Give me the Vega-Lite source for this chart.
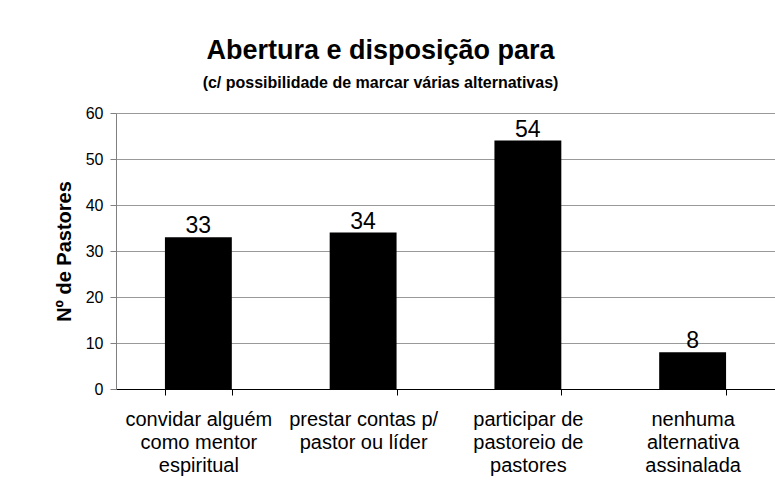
{
  "$schema": "https://vega.github.io/schema/vega-lite/v6.json",
  "width": 659,
  "height": 276,
  "autosize": {"type": "none"},
  "padding": {"left": 116, "top": 113, "right": 0, "bottom": 103},
  "background": "white",
  "title": {
    "text": "Abertura e disposição para",
    "subtitle": "(c/ possibilidade de marcar várias alternativas)",
    "anchor": "middle",
    "frame": "group",
    "dx": -65,
    "offset": 13,
    "font": "Liberation Sans",
    "fontSize": 27,
    "fontWeight": "bold",
    "color": "black",
    "subtitleFont": "Liberation Sans",
    "subtitleFontSize": 16,
    "subtitleFontWeight": "bold",
    "subtitleColor": "black",
    "subtitlePadding": 10
  },
  "data": {
    "values": [
      {"opcao": "convidar alguém\ncomo mentor\nespiritual", "pastores": 33},
      {"opcao": "prestar contas p/\npastor ou líder", "pastores": 34},
      {"opcao": "participar de\npastoreio de\npastores", "pastores": 54},
      {"opcao": "nenhuma\nalternativa\nassinalada", "pastores": 8}
    ]
  },
  "encoding": {
    "x": {
      "field": "opcao",
      "type": "nominal",
      "sort": null,
      "scale": {"paddingInner": 0.594, "paddingOuter": 0.297},
      "axis": {
        "title": null,
        "labelAngle": 0,
        "labelExpr": "isValid(datum.value) ? split(datum.value, '\\n') : ''",
        "labelFont": "Liberation Sans",
        "labelFontSize": 20,
        "labelLineHeight": 23,
        "labelColor": "black",
        "labelLimit": 0,
        "labelPadding": 14,
        "labelBaseline": "top",
        "tickBand": "extent",
        "tickSize": 6,
        "tickColor": "black",
        "domainColor": "black",
        "domainWidth": 1
      }
    },
    "y": {
      "field": "pastores",
      "type": "quantitative",
      "scale": {"domain": [0, 60], "nice": false},
      "axis": {
        "title": "Nº de Pastores",
        "values": [0, 10, 20, 30, 40, 50, 60],
        "grid": true,
        "gridColor": "#999999",
        "gridWidth": 1,
        "domainColor": "#808080",
        "tickColor": "#808080",
        "tickSize": 6,
        "labelFont": "Liberation Sans",
        "labelFontSize": 16,
        "labelColor": "black",
        "labelPadding": 7,
        "titleFont": "Liberation Sans",
        "titleFontSize": 20,
        "titleFontWeight": "bold",
        "titleColor": "black",
        "titlePadding": 11
      }
    }
  },
  "layer": [
    {"mark": {"type": "bar", "color": "black"}},
    {
      "mark": {"type": "text", "baseline": "alphabetic", "dy": -4, "font": "Liberation Sans", "fontSize": 23, "color": "black"},
      "encoding": {"text": {"field": "pastores", "type": "quantitative"}}
    }
  ],
  "config": {"view": {"stroke": null}}
}
